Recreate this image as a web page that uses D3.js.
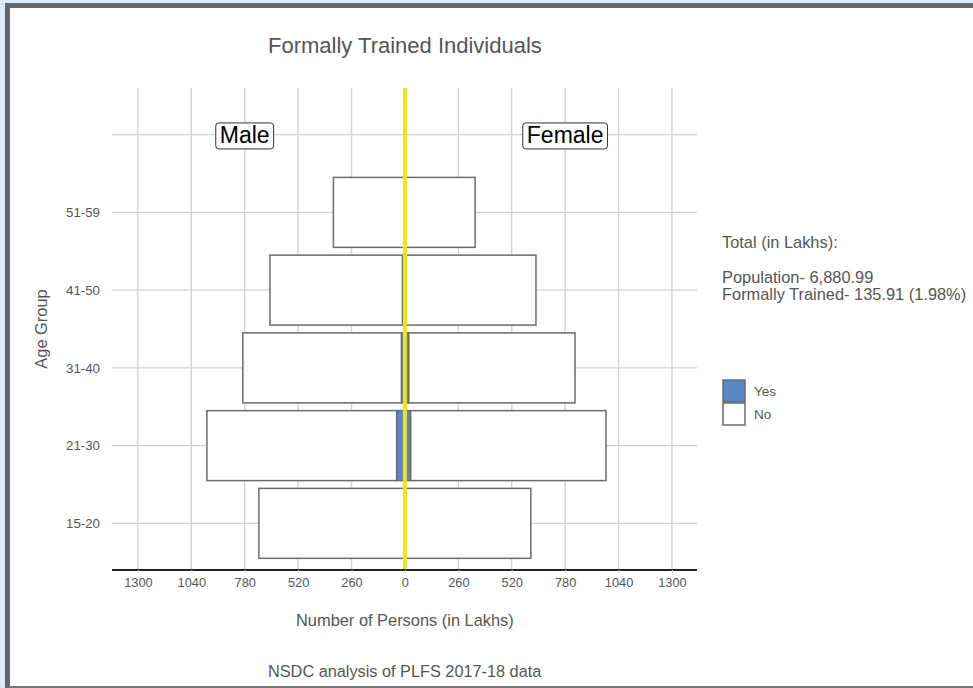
<!DOCTYPE html>
<html>
<head>
<meta charset="utf-8">
<script src="https://cdn.jsdelivr.net/npm/d3@7"></script>
<style>
  html, body { margin: 0; padding: 0; background: #dcedf9; }
  #container { position: absolute; left: 5px; top: 3px; width: 968px; height: 685px;
    background: #fff; border-left: 5px solid #676767; border-top: 5px solid #676767;
    border-bottom: 2px solid #777; box-sizing: border-box; overflow: hidden; }
  svg { position: absolute; left: -10px; top: -8px; }
  text { font-family: "Liberation Sans", Arial, sans-serif; }
</style>
</head>
<body>
<div id="container"></div>
<script>
const container = document.querySelector("#container")

const ageGroups = ["15-20", "21-30", "31-40", "41-50", "51-59"]
const maleTrained = [4, 40, 17, 12, 3]
const maleUntrained = [707, 924, 772, 645, 345]
const femaleTrained = [3, 28, 19, 6, 2]
const femaleUntrained = [610, 951, 809, 632, 340]
const xTicks = [-1300, -1040, -780, -520, -260, 0, 260, 520, 780, 1040, 1300]
const legendKeys = ["Yes", "No"]
const totalLines = ["Population- 6,880.99", "Formally Trained- 135.91 (1.98%)"]

const width = 973
const height = 688
const margin = {left: 112, right: 276, top: 88, bottom: 118}
const grey = "#555"

const svg = d3.create("svg")
    .attr("width", width)
    .attr("height", height)

const x = d3.scaleLinear()
    .domain([-1426, 1422])
    .range([margin.left, width - margin.right])

// extra top slot holds the Male / Female labels
const y = d3.scalePoint()
    .domain([...ageGroups, "label"])
    .range([height - margin.bottom, margin.top])
    .padding(0.6)

const barH = y.step() * 0.9
const color = d3.scaleOrdinal().domain(legendKeys).range(["#5b86c6", "#ffffff"])

// grid
const grid = svg.append("g")
grid.selectAll(".vg")
    .data(xTicks)
    .enter()
    .append("line")
    .attr("x1", d => x(d)).attr("x2", d => x(d))
    .attr("y1", margin.top).attr("y2", height - margin.bottom)
    .attr("stroke", "#d2d2d2").attr("stroke-width", 1.4)
grid.selectAll(".hg")
    .data(y.domain())
    .enter()
    .append("line")
    .attr("x1", margin.left).attr("x2", width - margin.right)
    .attr("y1", d => y(d)).attr("y2", d => y(d))
    .attr("stroke", "#d2d2d2").attr("stroke-width", 1.4)

// build stacked rows
const rows = []
ageGroups.forEach((g, i) => {
    rows.push({g, x0: 0, x1: -maleTrained[i], key: "Yes"})
    rows.push({g, x0: -maleTrained[i], x1: -maleTrained[i] - maleUntrained[i], key: "No"})
    rows.push({g, x0: 0, x1: femaleTrained[i], key: "Yes"})
    rows.push({g, x0: femaleTrained[i], x1: femaleTrained[i] + femaleUntrained[i], key: "No"})
})

svg.append("g").selectAll("rect")
    .data(rows)
    .enter()
    .append("rect")
    .attr("x", d => x(Math.min(d.x0, d.x1)))
    .attr("width", d => Math.abs(x(d.x1) - x(d.x0)))
    .attr("y", d => y(d.g) - barH / 2)
    .attr("height", barH)
    .attr("fill", d => color(d.key))
    .attr("stroke", "#6b6b6b")
    .attr("stroke-width", 1.5)

// zero line
svg.append("line")
    .attr("x1", x(0)).attr("x2", x(0))
    .attr("y1", margin.top).attr("y2", height - margin.bottom)
    .attr("stroke", "#ece61a").attr("stroke-width", 4)

// x axis
const xAxis = svg.append("g")
    .attr("transform", `translate(0,${height - margin.bottom})`)
    .call(d3.axisBottom(x).tickValues(xTicks).tickFormat(d => Math.abs(d)).tickSize(3).tickPadding(5))
xAxis.select(".domain").attr("stroke", "#222").attr("stroke-width", 2)
    .attr("d", `M${margin.left},0H${width - margin.right}`)
xAxis.selectAll(".tick line").attr("stroke", "#d2d2d2")
xAxis.selectAll("text").attr("fill", grey).style("font-size", "12.8px")

// y axis
const yAxis = svg.append("g")
    .attr("transform", `translate(${margin.left},0)`)
    .call(d3.axisLeft(y).tickFormat(d => d === "label" ? "" : d).tickSize(0).tickPadding(12))
yAxis.select(".domain").remove()
yAxis.selectAll("text").attr("fill", grey).style("font-size", "13.3px")

// Male / Female labels
const labels = [{t: "Male", v: -780}, {t: "Female", v: 780}]

// titles
svg.append("text")
    .attr("x", x(0)).attr("y", 53)
    .attr("text-anchor", "middle")
    .attr("fill", grey).style("font-size", "22px")
    .text("Formally Trained Individuals")
svg.append("text")
    .attr("x", x(0)).attr("y", 626)
    .attr("text-anchor", "middle")
    .attr("fill", grey).style("font-size", "16.4px")
    .text("Number of Persons (in Lakhs)")
svg.append("text")
    .attr("transform", `translate(47,${(margin.top + height - margin.bottom) / 2}) rotate(-90)`)
    .attr("text-anchor", "middle")
    .attr("fill", grey).style("font-size", "16.4px")
    .text("Age Group")
svg.append("text")
    .attr("x", 268).attr("y", 677)
    .attr("fill", grey).style("font-size", "16.3px")
    .text("NSDC analysis of PLFS 2017-18 data")

// totals
svg.append("text")
    .attr("x", 722).attr("y", 248)
    .attr("fill", grey).style("font-size", "16.4px")
    .text("Total (in Lakhs):")
svg.append("g").selectAll("text")
    .data(totalLines)
    .enter()
    .append("text")
    .attr("x", 722).attr("y", (d, i) => 283 + i * 17)
    .attr("fill", grey).style("font-size", "16.4px")
    .text(d => d)

// legend
const legend = svg.append("g").attr("transform", "translate(723,380)")
legend.selectAll("rect")
    .data(legendKeys)
    .enter()
    .append("rect")
    .attr("x", 0).attr("y", (d, i) => i * 23)
    .attr("width", 22).attr("height", 22)
    .attr("fill", d => color(d))
    .attr("stroke", "#6b6b6b").attr("stroke-width", 1.5)
legend.selectAll("text")
    .data(legendKeys)
    .enter()
    .append("text")
    .attr("x", 31).attr("y", (d, i) => i * 23 + 16)
    .attr("fill", grey).style("font-size", "13.5px")
    .text(d => d)

container.appendChild(svg.node())

// label boxes need layout, so add them after attaching
const lab = svg.append("g").selectAll("g")
    .data(labels)
    .enter()
    .append("g")
    .attr("transform", d => `translate(${x(d.v)},${y("label")})`)
lab.append("text")
    .attr("text-anchor", "middle")
    .attr("dy", "0.36em")
    .style("font-size", "23px")
    .attr("fill", "#000")
    .text(d => d.t)
lab.each(function() {
    const b = d3.select(this).select("text").node().getBBox()
    d3.select(this).insert("rect", "text")
        .attr("x", b.x - 4).attr("y", b.y + 1)
        .attr("width", b.width + 8).attr("height", b.height)
        .attr("rx", 3)
        .attr("fill", "#fff").attr("stroke", "#333").attr("stroke-width", 1)
})
</script>
</body>
</html>
